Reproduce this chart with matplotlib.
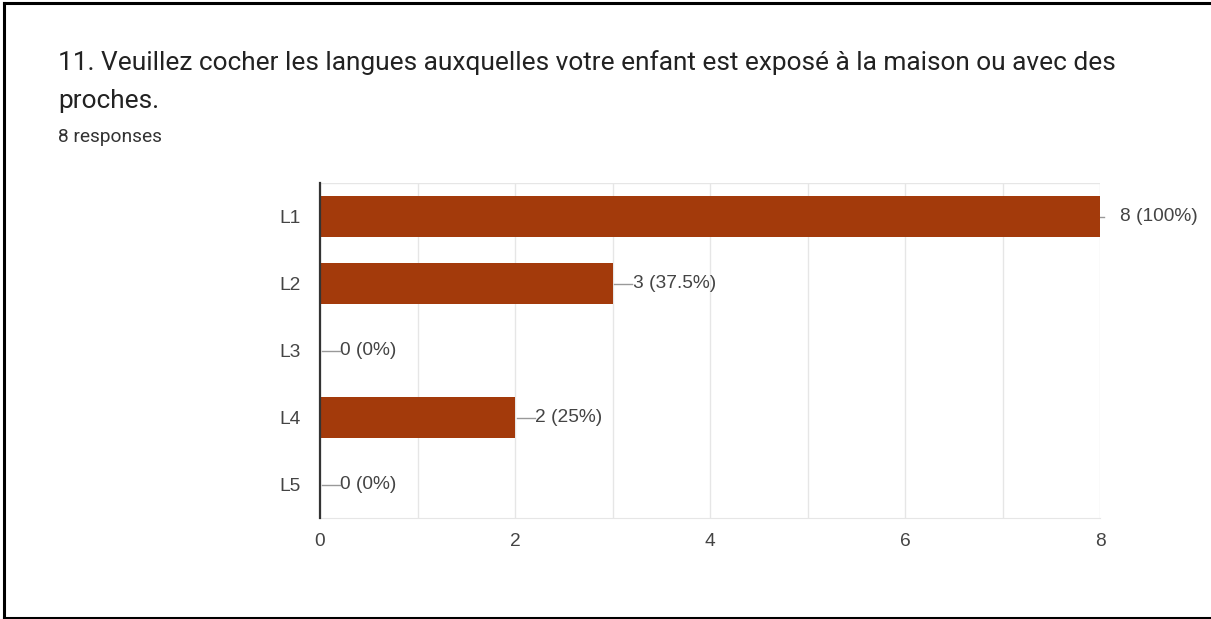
import matplotlib; matplotlib.use('Agg'); import matplotlib.pyplot as plt
from matplotlib.lines import Line2D
plt.rcParams.update({'font.family': ['Roboto', 'DejaVu Sans']})

categories = ['L1', 'L2', 'L3', 'L4', 'L5']
counts = [8, 3, 0, 2, 0]
labels = ['8 (100%)', '3 (37.5%)', '0 (0%)', '2 (25%)', '0 (0%)']
xticks = [0, 2, 4, 6, 8]
title = '11. Veuillez cocher les langues auxquelles votre enfant est exposé à la maison ou avec des\nproches.'
subtitle = '8 responses'

BAR = '#a33a0b'; TXT = '#444444'; GRID = '#e6e6e6'
CHART_FONT = ['Liberation Sans', 'DejaVu Sans']
fig = plt.figure(figsize=(12.11, 6.19), dpi=100)
fig.patch.set_facecolor('white')
ax = fig.add_axes([320/1211, 101/619, 780/1211, 335/619])

ypos = list(range(len(categories)))
ax.barh(ypos, counts, height=0.6, color=BAR, zorder=3)
ax.set_ylim(len(categories)-0.5, -0.5)
ax.set_xlim(0, 8)
ax.set_yticks(ypos, categories, family=CHART_FONT)
ax.set_xticks(xticks, [str(t) for t in xticks], family=CHART_FONT)
for g in range(0, 9):
    ax.axvline(g, color=GRID, lw=1, zorder=1)
ax.axhline(-0.5, color=GRID, lw=1, zorder=1)
for s in ['top', 'right']:
    ax.spines[s].set_visible(False)
ax.spines['bottom'].set_color(GRID)
ax.spines['left'].set_color('#333333'); ax.spines['left'].set_linewidth(1.6); ax.spines['left'].set_zorder(4)
ax.tick_params(axis='both', length=0, labelsize=13.8, labelcolor=TXT)
ax.tick_params(axis='y', pad=14)
ax.tick_params(axis='x', pad=11)

for i, (v, lab) in enumerate(zip(counts, labels)):
    if v == max(counts):
        ax.plot([v, v + 0.04], [i, i], color='#999999', lw=1, zorder=2, clip_on=False)
        ax.text(v + 0.2, i, lab, ha='left', va='center', fontsize=13.8, color=TXT, clip_on=False, family=CHART_FONT)
    else:
        ax.plot([v + 0.02, v + 0.2], [i, i], color='#999999', lw=1, zorder=4, clip_on=False)
        ax.text(v + 0.21, i, lab, ha='left', va='center', fontsize=13.8, color=TXT, family=CHART_FONT)

fig.text(58/1211, 1 - 50/619, title, ha='left', va='top', fontsize=18.9, color='#222222', linespacing=1.72)
fig.text(58/1211, 1 - 137/619, subtitle, ha='left', va='center', fontsize=13.8, color='#333333')

# frame (top, left, bottom)
for (x0, y0, x1, y1) in [(0.003, 0.995, 1.0, 0.995), (0.003, 0.995, 0.003, 0.002), (0.003, 0.002, 1.0, 0.002)]:
    fig.add_artist(Line2D([x0, x1], [y0, y1], color='black', lw=2.2, transform=fig.transFigure))

fig.savefig('out.png', dpi=100, facecolor='white')
